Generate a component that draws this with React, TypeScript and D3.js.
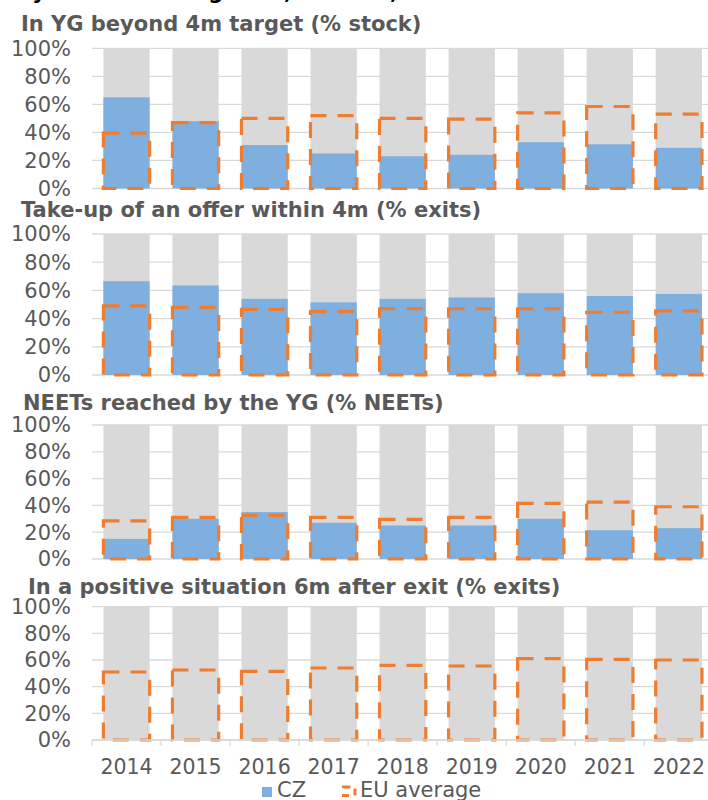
import { useRef, useEffect } from "react";
import * as d3 from "d3";

const YEARS = ["2014", "2015", "2016", "2017", "2018", "2019", "2020", "2021", "2022"];
const TITLES = [
  "In YG beyond 4m target (% stock)",
  "Take-up of an offer within 4m (% exits)",
  "NEETs reached by the YG (% NEETs)",
  "In a positive situation 6m after exit (% exits)",
];
const Y_TICKS = [0, 20, 40, 60, 80, 100];

// CZ values per indicator (null = no data)
const CZ_STOCK = [65, 48, 31, 25, 23, 24, 33, 31.5, 29];
const CZ_TAKEUP = [66.5, 63.5, 54, 51.5, 54, 55, 58, 56, 57.5];
const CZ_REACHED = [15, 30, 35, 27, 25, 25, 30, 21.5, 23];
const CZ_POSITIVE: (number | null)[] = [null, null, null, null, null, null, null, null, null];

// EU average per indicator
const EU_STOCK = [39.5, 47, 50, 52, 50, 49.5, 54, 58.5, 53];
const EU_TAKEUP = [49, 48, 46.5, 45, 47, 47, 47, 44.5, 45.5];
const EU_REACHED = [28.5, 31, 32.5, 31, 29.5, 31, 41.5, 42.5, 39];
const EU_POSITIVE = [51, 52.5, 51.5, 54, 56, 55.5, 61, 60.5, 60];

const CZ_SERIES = [CZ_STOCK, CZ_TAKEUP, CZ_REACHED, CZ_POSITIVE];
const EU_SERIES = [EU_STOCK, EU_TAKEUP, EU_REACHED, EU_POSITIVE];

const WIDTH = 708;
const HEIGHT = 800;
const PLOT_LEFT = 92;
const STEP = 69.04;
const FONT = "'DejaVu Sans', Verdana, sans-serif";
const TEXT = "#595959";
const GRID = "#d9d9d9";
const BLUE = "#7eafde";
const ORANGE = "#ed7d31";

// vertical layout of the four panels
const PANELS = [
  { titleX: 21, titleY: 30.5, top: 48.3, bottom: 188.5 },
  { titleX: 21, titleY: 216.5, top: 234, bottom: 375 },
  { titleX: 23, titleY: 410, top: 425, bottom: 559 },
  { titleX: 28, titleY: 593.5, top: 606.7, bottom: 740 },
];

export default function App() {
  const svgRef = useRef<SVGSVGElement>(null);

  useEffect(() => {
    const svg = d3.select(svgRef.current);
    svg.selectAll("*").remove();

    const x = d3
      .scaleBand<string>()
      .domain(YEARS)
      .range([PLOT_LEFT, PLOT_LEFT + STEP * YEARS.length])
      .paddingInner(0.33)
      .paddingOuter(0.165);
    const [x0, x1] = x.range();

    // cut-off figure heading at the very top
    svg
      .append("text")
      .attr("x", 2)
      .attr("y", -1.5)
      .attr("font-family", FONT)
      .attr("font-weight", "bold")
      .attr("font-size", 21)
      .attr("fill", "#000")
      .text("Key YG monitoring data, Czechia, 2014-2022");

    PANELS.forEach((p, i) => {
      const y = d3.scaleLinear().domain([0, 100]).range([p.bottom, p.top]);
      const g = svg.append("g");

      g.append("text")
        .attr("x", p.titleX)
        .attr("y", p.titleY)
        .attr("font-family", FONT)
        .attr("font-weight", "bold")
        .attr("font-size", 21)
        .attr("fill", TEXT)
        .text(TITLES[i]);

      // Grid lines
      g.append("g")
        .selectAll("line")
        .data(Y_TICKS)
        .join("line")
        .attr("x1", x0)
        .attr("x2", x1)
        .attr("y1", (d) => y(d))
        .attr("y2", (d) => y(d))
        .attr("stroke", GRID)
        .attr("stroke-width", 1.3);

      // Y labels
      g.append("g")
        .selectAll("text")
        .data(Y_TICKS)
        .join("text")
        .attr("x", 71)
        .attr("y", (d) => y(d))
        .attr("dy", "0.35em")
        .attr("text-anchor", "end")
        .attr("font-family", FONT)
        .attr("font-size", 21)
        .attr("fill", TEXT)
        .text((d) => `${d}%`);

      // 100% background bars
      g.append("g")
        .selectAll("rect")
        .data(YEARS)
        .join("rect")
        .attr("x", (d) => x(d)!)
        .attr("width", x.bandwidth())
        .attr("y", y(100))
        .attr("height", y(0) - y(100))
        .attr("fill", GRID);

      // CZ bars
      const cz = YEARS.map((yr, j) => ({ yr, v: CZ_SERIES[i][j] })).filter((d) => d.v != null);
      g.append("g")
        .selectAll("rect")
        .data(cz)
        .join("rect")
        .attr("x", (d) => x(d.yr)!)
        .attr("width", x.bandwidth())
        .attr("y", (d) => y(d.v as number))
        .attr("height", (d) => y(0) - y(d.v as number))
        .attr("fill", BLUE);

      // EU average dashed outline
      const eu = YEARS.map((yr, j) => ({ yr, v: EU_SERIES[i][j] }));
      g.append("g")
        .selectAll("rect")
        .data(eu)
        .join("rect")
        .attr("x", (d) => x(d.yr)!)
        .attr("width", x.bandwidth())
        .attr("y", (d) => y(d.v))
        .attr("height", (d) => y(0) - y(d.v))
        .attr("fill", "none")
        .attr("stroke", ORANGE)
        .attr("stroke-width", 3.2)
        .attr("stroke-dasharray", "16,11");
    });

    // Bottom category axis
    const base = PANELS[PANELS.length - 1].bottom;
    const axis = svg.append("g");
    axis
      .append("line")
      .attr("x1", x0)
      .attr("x2", x1)
      .attr("y1", base)
      .attr("y2", base)
      .attr("stroke", GRID)
      .attr("stroke-width", 1.3);
    axis
      .selectAll("line.tick")
      .data(d3.range(YEARS.length + 1))
      .join("line")
      .attr("class", "tick")
      .attr("x1", (k) => x0 + k * x.step())
      .attr("x2", (k) => x0 + k * x.step())
      .attr("y1", base)
      .attr("y2", base + 6)
      .attr("stroke", GRID)
      .attr("stroke-width", 1.3);
    axis
      .selectAll("text")
      .data(YEARS)
      .join("text")
      .attr("x", (d) => x(d)! + x.bandwidth() / 2)
      .attr("y", 773.5)
      .attr("text-anchor", "middle")
      .attr("font-family", FONT)
      .attr("font-size", 20.5)
      .attr("fill", TEXT)
      .text((d) => d);

    // Legend
    const lg = svg.append("g");
    lg.append("rect").attr("x", 262).attr("y", 787).attr("width", 10).attr("height", 10).attr("fill", BLUE);
    lg.append("text")
      .attr("x", 277)
      .attr("y", 797)
      .attr("font-family", FONT)
      .attr("font-size", 21)
      .attr("fill", TEXT)
      .text("CZ");
    lg.append("rect")
      .attr("x", 343.5)
      .attr("y", 787)
      .attr("width", 11.5)
      .attr("height", 8.5)
      .attr("fill", "none")
      .attr("stroke", ORANGE)
      .attr("stroke-width", 3)
      .attr("stroke-dasharray", "7,6");
    lg.append("text")
      .attr("x", 360)
      .attr("y", 797)
      .attr("font-family", FONT)
      .attr("font-size", 21)
      .attr("fill", TEXT)
      .text("EU average");
  }, []);

  return (
    <svg
      ref={svgRef}
      width={WIDTH}
      height={HEIGHT}
      viewBox={`0 0 ${WIDTH} ${HEIGHT}`}
      style={{ position: "absolute", left: 0, top: 0, background: "#fff" }}
    />
  );
}
